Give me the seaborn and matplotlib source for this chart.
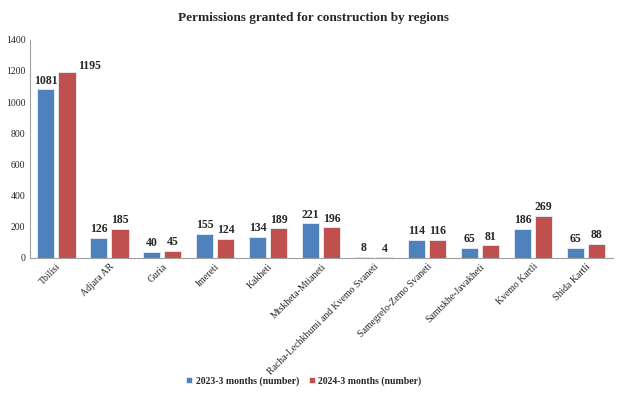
import matplotlib
matplotlib.use("Agg")
import matplotlib.pyplot as plt
import seaborn as sns
import pandas as pd

regions = ["Tbilisi", "Adjara AR", "Guria", "Imereti", "Kakheti", "Mtskheta-Mtianeti",
           "Racha-Lechkhumi and Kvemo Svaneti", "Samegrelo-Zemo Svaneti",
           "Samtskhe-Javakheti", "Kvemo Kartli", "Shida Kartli"]
values_2023 = [1081, 126, 40, 155, 134, 221, 8, 114, 65, 186, 65]
values_2024 = [1195, 185, 45, 124, 189, 196, 4, 116, 81, 269, 88]
series = ["2023-3 months (number)", "2024-3 months (number)"]
yticks = [0, 200, 400, 600, 800, 1000, 1200, 1400]

df = pd.DataFrame({
    "region": regions * 2,
    "value": values_2023 + values_2024,
    "series": [series[0]] * len(regions) + [series[1]] * len(regions),
})

sns.set_theme(style="white")
plt.rcParams["font.family"] = ["Liberation Serif", "DejaVu Serif"]

fig = plt.figure(figsize=(6.2, 3.98), dpi=100)
ax = fig.add_axes([0.048, 0.352, 0.94, 0.548])
sns.barplot(data=df, x="region", y="value", hue="series",
            palette=["#4F81BD", "#C0504D"], width=0.8, gap=0.18,
            ax=ax, saturation=1, edgecolor="#e8eef6", linewidth=0.6)

for i, cont in enumerate(ax.containers):
    labels = ax.bar_label(cont, fontsize=8.5, fontweight="bold", padding=2)
    if i == 1:
        # first red label (Tbilisi) sits to the right of its bar top
        labels[0].set_horizontalalignment("left")
        labels[0].xyann = (8, 0)

ax.set_ylim(0, 1400)
ax.set_yticks(yticks)
ax.set_yticklabels([str(t) for t in yticks], fontsize=7)
ax.set_xlabel("")
ax.set_ylabel("")
ax.set_xticks(range(len(regions)))
ax.set_xticklabels(regions, rotation=45, ha="right", rotation_mode="anchor", fontsize=7)
ax.tick_params(axis="both", length=0, pad=3)
for s in ["top", "right"]:
    ax.spines[s].set_visible(False)
for s in ["left", "bottom"]:
    ax.spines[s].set_color("#a0a0a0")
    ax.spines[s].set_linewidth(0.8)

fig.text(0.505, 0.955, "Permissions granted for construction by regions", fontsize=9.5,
         fontweight="bold", ha="center", va="center")

ax.legend(loc="center", ncol=2, frameon=False, handlelength=0.6, handleheight=0.6,
          columnspacing=1.0, handletextpad=0.4, prop={"weight": "bold", "size": 7})
leg = ax.get_legend()
leg.set_bbox_to_anchor((0.49, 0.042), transform=fig.transFigure)

fig.savefig("out.png", dpi=100)
